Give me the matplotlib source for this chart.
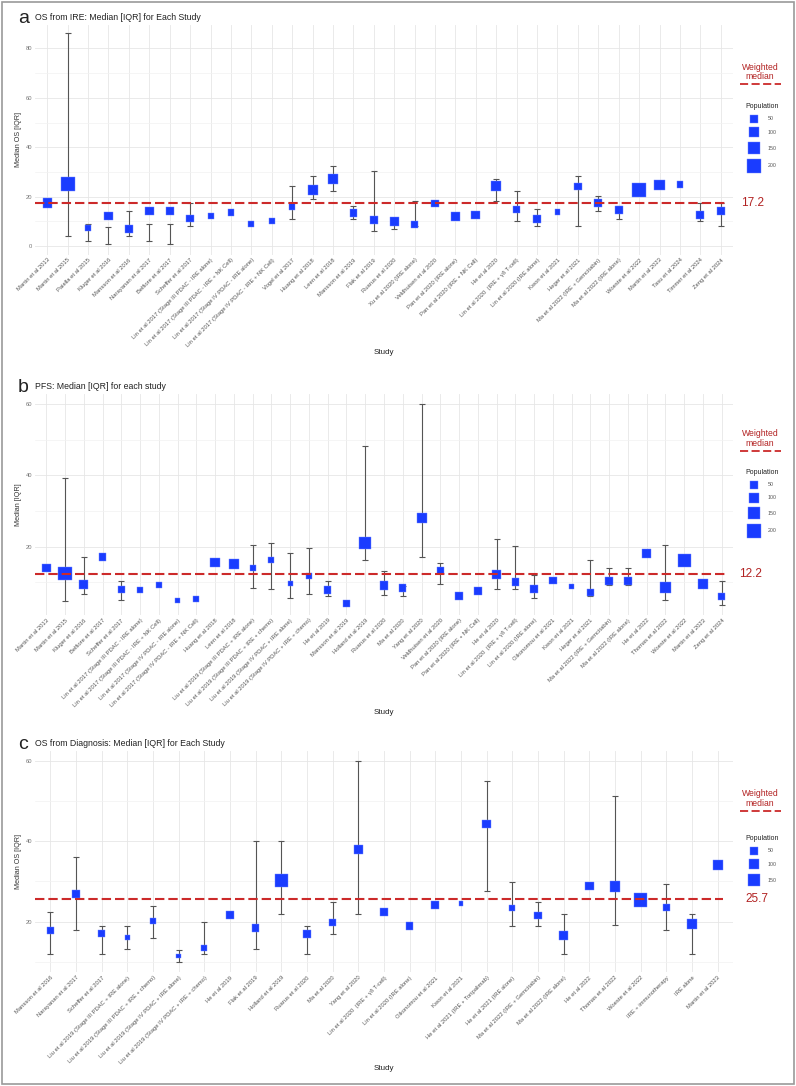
import numpy as np
import matplotlib
matplotlib.use('Agg')
import matplotlib.pyplot as plt
from matplotlib.lines import Line2D
from matplotlib.patches import Rectangle

plt.rcParams['font.family'] = ['Liberation Sans', 'DejaVu Sans']

nan = np.nan

# ---------------- panel a: OS from IRE ----------------
a_studies = ['Martin et al 2013', 'Martin et al 2015', 'Paiella et al 2015', 'Kluger et al 2016',
             'Mansson et al 2016', 'Narayanan et al 2017', 'Belfiore et al 2017', 'Scheffer et al 2017',
             'Lin et al 2017 (Stage III PDAC - IRE alone)', 'Lin et al 2017 (Stage III PDAC - IRE + NK Cell)',
             'Lin et al 2017 (Stage IV PDAC - IRE alone)', 'Lin et al 2017 (Stage IV PDAC - IRE + NK Cell)',
             'Vogel et al 2017', 'Huang et al 2018', 'Leen et al 2018', 'Mansson et al 2019',
             'Flak et al 2019', 'Ruarus et al 2020', 'Xu et al 2020 (IRE alone)', 'Veldhuisen et al 2020',
             'Pan et al 2020 (IRE alone)', 'Pan et al 2020 (IRE + NK Cell)', 'He et al 2020',
             'Lin et al 2020  (IRE + γδ T-cell)', 'Lin et al 2020 (IRE alone)', 'Kwon et al 2021',
             'Heger et al 2021', 'Ma et al 2022 (IRE + Gemcitabin)', 'Ma et al 2022 (IRE alone)',
             'Woeste et al 2022', 'Martin et al 2023', 'Tasu et al 2024', 'Timmer et al 2024', 'Zeng et al 2024']
a_median = [17.4, 25.2, 7.4, 12.1, 6.8, 14.2, 14.0, 11.0, 12.2, 13.6, 9.0, 10.1, 16.0, 22.7, 27.3, 13.4,
            10.7, 10.0, 8.6, 17.3, 11.8, 12.5, 24.2, 14.7, 11.0, 13.6, 24.2, 17.3, 14.4, 22.6, 24.7, 24.8,
            12.6, 14.0]
a_q1 = [nan, 4.0, 1.9, 0.8, 4.1, 1.9, 0.8, 7.9, nan, nan, nan, nan, 11.0, 19.0, 22.2, 11.1,
        6.2, 7.0, 8.0, nan, nan, nan, 18.1, 10.1, 7.9, nan, 7.9, 14.1, 11.1, nan, nan, nan, 10.1, 7.9]
a_q3 = [nan, 86.4, 9.0, 7.5, 14.1, 9.0, 9.0, 17.3, nan, nan, nan, nan, 24.4, 28.4, 32.5, 16.3,
        30.3, 11.0, 18.1, nan, nan, nan, 27.3, 22.2, 15.1, nan, 28.4, 20.3, 16.2, nan, nan, nan, 17.3, 17.3]
a_pop = [60, 200, 10, 50, 28, 50, 38, 28, 12, 19, 12, 12, 19, 77, 77, 28, 38, 50, 28, 28, 50, 50, 77,
         28, 38, 10, 28, 38, 38, 200, 94, 19, 38, 38]
a_wmed = 17.2

# ---------------- panel b: PFS ----------------
b_studies = ['Martin et al 2013', 'Martin et al 2015', 'Kluger et al 2016', 'Belfiore et al 2017',
             'Scheffer et al 2017', 'Lin et al 2017 (Stage III PDAC - IRE alone)',
             'Lin et al 2017 (Stage III PDAC - IRE + NK Cell)', 'Lin et al 2017 (Stage IV PDAC - IRE alone)',
             'Lin et al 2017 (Stage IV PDAC - IRE + NK Cell)', 'Huang et al 2018', 'Leen et al 2018',
             'Liu et al 2019 (Stage III PDAC + IRE alone)', 'Liu et al 2019 (Stage III PDAC + IRE + chemo)',
             'Liu et al 2019 (Stage IV PDAC + IRE alone)', 'Liu et al 2019 (Stage IV PDAC + IRE + chemo)',
             'He et al 2019', 'Mansson et al 2019', 'Holland et al 2019', 'Ruarus et al 2020', 'Ma et al 2020',
             'Yang et al 2020', 'Veldhuisen et al 2020', 'Pan et al 2020 (IRE alone)',
             'Pan et al 2020 (IRE + NK Cell)', 'He et al 2020', 'Lin et al 2020  (IRE + γδ T-cell)',
             'Lin et al 2020 (IRE alone)', 'Oikonomou et al 2021', 'Kwon et al 2021', 'Heger et al 2021',
             'Ma et al 2022 (IRE + Gemcitabin)', 'Ma et al 2022 (IRE alone)', 'He et al 2022',
             'Thomas et al 2022', 'Woeste et al 2022', 'Martin et al 2023', 'Zeng et al 2024']
b_median = [14.0, 12.4, 9.3, 17.1, 8.0, 7.9, 9.2, 4.9, 5.4, 15.5, 15.1, 13.9, 16.2, 9.6, 11.8, 7.8,
            4.0, 20.9, 9.1, 8.4, 28.0, 13.2, 6.2, 7.4, 12.1, 10.1, 8.1, 10.5, 8.8, 7.1, 10.3, 10.3,
            18.1, 8.6, 16.1, 9.5, 6.0]
b_q1 = [nan, 4.6, 6.7, nan, 5.0, nan, nan, nan, nan, nan, nan, 8.3, 8.1, 5.5, 6.6, 6.2,
        nan, 16.2, 6.4, 6.2, 17.1, 9.6, nan, nan, 8.1, 8.1, 5.6, nan, nan, 6.2, 9.3, 9.3,
        nan, 5.0, nan, nan, 3.6]
b_q3 = [nan, 39.1, 17.1, nan, 10.2, nan, nan, nan, nan, nan, nan, 20.4, 21.0, 18.2, 19.7, 10.2,
        nan, 48.1, 13.1, 8.8, 60.0, 15.5, nan, nan, 22.1, 20.1, 12.1, nan, nan, 16.2, 14.1, 14.1,
        nan, 20.4, nan, nan, 10.2]
b_pop = [50, 175, 50, 28, 28, 12, 12, 7, 12, 63, 63, 12, 12, 4, 12, 28, 19, 131, 50, 28, 77, 28,
         38, 38, 63, 28, 28, 28, 7, 19, 28, 28, 50, 94, 175, 63, 28]
b_wmed = 12.2

# ---------------- panel c: OS from diagnosis ----------------
c_studies = ['Mansson et al 2016', 'Narayanan et al 2017', 'Scheffer et al 2017',
             'Liu et al 2019 (Stage III PDAC + IRE alone)', 'Liu et al 2019 (Stage III PDAC + IRE + chemo)',
             'Liu et al 2019 (Stage IV PDAC + IRE alone)', 'Liu et al 2019 (Stage IV PDAC + IRE + chemo)',
             'He et al 2019', 'Flak et al 2019', 'Holland et al 2019', 'Ruarus et al 2020', 'Ma et al 2020',
             'Yang et al 2020', 'Lin et al 2020  (IRE + γδ T-cell)', 'Lin et al 2020 (IRE alone)',
             'Oikonomou et al 2021', 'Kwon et al 2021', 'He et al 2021 (IRE + Toripalimab)',
             'He et al 2021 (IRE alone)', 'Ma et al 2022 (IRE + Gemcitabin)', 'Ma et al 2022 (IRE alone)',
             'He et al 2022', 'Thomas et al 2022', 'Woeste et al 2022', 'IRE + immunotherapy', 'IRE alone',
             'Martin et al 2023']
c_median = [17.8, 26.9, 17.0, 16.1, 20.2, 11.5, 13.5, 21.6, 18.4, 30.2, 17.0, 19.8, 38.0, 22.4, 18.9,
            24.2, 24.5, 44.3, 23.3, 21.5, 16.6, 28.9, 28.7, 25.4, 23.6, 19.4, 34.2]
c_q1 = [12.0, 17.9, 12.0, 13.1, 16.0, 9.9, 12.0, nan, 13.1, 22.0, 12.0, 17.0, 22.0, nan, nan,
        nan, nan, 27.5, 19.0, 19.0, 12.0, nan, 19.2, nan, 17.9, 12.0, nan]
c_q3 = [22.4, 36.0, 18.9, 18.9, 24.0, 13.0, 20.0, nan, 40.0, 40.0, 18.9, 25.0, 60.0, nan, nan,
        nan, nan, 55.0, 29.9, 25.0, 22.0, nan, 51.2, nan, 29.4, 22.0, nan]
c_pop = [19, 50, 28, 7, 12, 2, 12, 38, 28, 152, 38, 28, 63, 28, 28, 38, 4, 50, 12, 28, 63, 50, 94,
         175, 28, 63, 77]
c_wmed = 25.7

W, H = 796, 1086
BLUE = '#1a3cff'
RED = '#cc2a2a'
DARKRED = '#b22222'


def fx(px):
    return px / W


def fy(py):
    return 1 - py / H


def msize(pop):
    side_px = 3.4 + 0.75 * np.sqrt(np.asarray(pop, dtype=float))
    return (side_px * 72 / 100) ** 2


def panel(fig, top, bottom, ylim, majors, minors, studies, med, q1, q3, pop, wmed,
          letter, title, ylabel, legend_vals):
    ax = fig.add_axes([fx(35), fy(bottom), fx(733) - fx(35), (bottom - top) / H])
    n = len(studies)
    x = np.arange(1, n + 1)
    q1 = np.array(q1, dtype=float)
    q3 = np.array(q3, dtype=float)
    ok = ~np.isnan(q1)
    ax.errorbar(x[ok], (q1[ok] + q3[ok]) / 2, yerr=(q3[ok] - q1[ok]) / 2, fmt='none',
                ecolor='#555555', elinewidth=0.8, capsize=2.2, capthick=0.8, zorder=2)
    ax.scatter(x, med, s=msize(pop), marker='s', color=BLUE, edgecolors='#6f86ff',
               linewidths=0.3, zorder=3)
    ax.plot([0.4, n + 0.2], [wmed, wmed], color=RED, lw=1.5, ls=(0, (4.5, 1.9)), zorder=4)
    ax.set_xlim(0.4, n + 0.6)
    ax.set_ylim(*ylim)
    ax.set_xticks(x)
    ax.set_xticklabels(studies, rotation=45, ha='right', rotation_mode='anchor',
                       fontsize=4.2, color='#555555')
    ax.set_yticks(majors)
    ax.set_yticks(minors, minor=True)
    ax.tick_params(axis='both', length=0, pad=2)
    ax.tick_params(axis='y', labelsize=4.2, labelcolor='#777777')
    ax.tick_params(axis='y', which='minor', length=0)
    ax.grid(True, which='major', color='#e6e6e6', lw=0.6)
    ax.grid(True, which='minor', axis='y', color='#f2f2f2', lw=0.5)
    ax.set_axisbelow(True)
    for s in ax.spines.values():
        s.set_visible(False)
    ax.set_ylabel(ylabel, fontsize=5.2, color='#333333', labelpad=3)

    # label of weighted median, outside plot
    ax.text(n + 1.55, wmed, f'{wmed}', color=DARKRED, fontsize=8.5, va='center', ha='center',
            clip_on=False)

    # titles
    fig.text(fx(18), fy(top - 2), letter, fontsize=14, va='baseline', ha='left', color='#222222')
    fig.text(fx(35), fy(top - 5), title, fontsize=6.3, va='baseline', ha='left', color='#222222')
    return ax


fig = plt.figure(figsize=(W / 100, H / 100), dpi=100)

panels = [
    dict(top=25, bottom=254.6, ylim=(-3.5, 89.5), majors=[0, 20, 40, 60, 80], minors=[10, 30, 50, 70],
         studies=a_studies, med=a_median, q1=a_q1, q3=a_q3, pop=a_pop, wmed=a_wmed, letter='a',
         title='OS from IRE: Median [IQR] for Each Study', ylabel='Median OS [IQR]',
         legend_vals=[50, 100, 150, 200], study_y=353, wm_y=(72, 84.3), pop_y=106.7,
         sq_y=[119, 132.3, 148.3, 166]),
    dict(top=394, bottom=615, ylim=(0.8, 62.8), majors=[20, 40, 60], minors=[10, 30, 50],
         studies=b_studies, med=b_median, q1=b_q1, q3=b_q3, pop=b_pop, wmed=b_wmed, letter='b',
         title='PFS: Median [IQR] for each study', ylabel='Median [IQR]',
         legend_vals=[50, 100, 150, 200], study_y=712, wm_y=(438.5, 450.7), pop_y=472.7,
         sq_y=[485, 497.7, 513.3, 531]),
    dict(top=750.6, bottom=972.4, ylim=(7.4, 62.5), majors=[20, 40, 60], minors=[10, 30, 50],
         studies=c_studies, med=c_median, q1=c_q1, q3=c_q3, pop=c_pop, wmed=c_wmed, letter='c',
         title='OS from Diagnosis: Median [IQR] for Each Study', ylabel='Median OS [IQR]',
         legend_vals=[50, 100, 150], study_y=1068, wm_y=(798.5, 810.7), pop_y=838.3,
         sq_y=[850.7, 864, 880]),
]

for p in panels:
    panel(fig, p['top'], p['bottom'], p['ylim'], p['majors'], p['minors'], p['studies'], p['med'],
          p['q1'], p['q3'], p['pop'], p['wmed'], p['letter'], p['title'], p['ylabel'], p['legend_vals'])
    fig.text(fx(384), fy(p['study_y']), 'Study', fontsize=5.8, ha='center', va='center',
             color='#222222')
    # weighted median key
    fig.text(fx(760), fy(p['wm_y'][0]), 'Weighted\nmedian', fontsize=6.2, ha='center', va='center',
             color=DARKRED, linespacing=1.0)
    fig.add_artist(Line2D([fx(740), fx(781)], [fy(p['wm_y'][1])] * 2, color=RED, lw=1.3,
                          ls=(0, (4.5, 1.9)), transform=fig.transFigure))
    # population key
    fig.text(fx(762), fy(p['pop_y']), 'Population', fontsize=5.0, ha='center', va='center',
             color='#222222')
    for val, yy in zip(p['legend_vals'], p['sq_y']):
        fig.add_artist(Line2D([fx(754)], [fy(yy)], marker='s', ls='none',
                              markersize=np.sqrt(msize(val)), color=BLUE, mec='#6f86ff', mew=0.3,
                              transform=fig.transFigure))
        fig.text(fx(768), fy(yy), str(val), fontsize=3.8, ha='left', va='center', color='#555555')

fig.patches.append(Rectangle((0.002, 0.002), 0.996, 0.996, transform=fig.transFigure, fill=False,
                             ec='#9a9a9a', lw=1.2))

fig.savefig('out.png', dpi=100)
